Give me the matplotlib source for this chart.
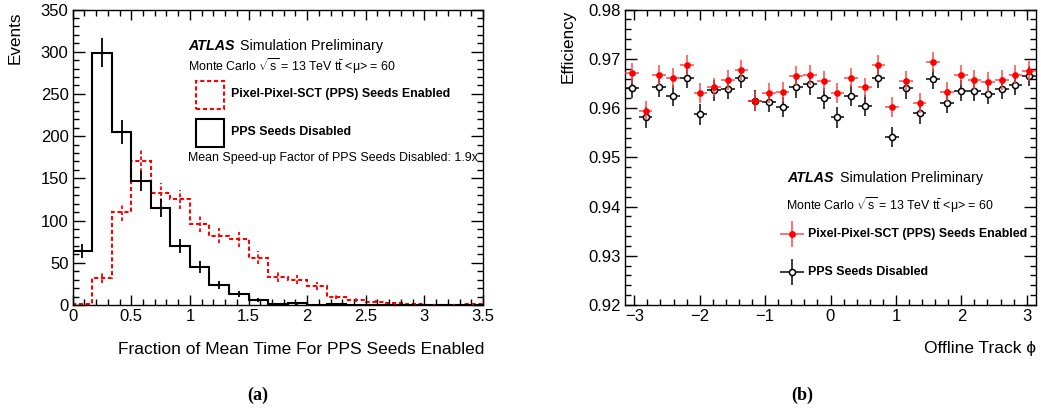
import numpy as np
import matplotlib
matplotlib.use("Agg")
import matplotlib.pyplot as plt
from matplotlib.patches import Rectangle
from matplotlib.lines import Line2D
from matplotlib.ticker import MultipleLocator

plt.rcParams['font.family'] = ['Liberation Sans', 'DejaVu Sans']
plt.rcParams['mathtext.fontset'] = 'custom'
plt.rcParams['mathtext.rm'] = 'Liberation Sans'
plt.rcParams['mathtext.it'] = 'Liberation Sans:italic'
plt.rcParams['mathtext.bf'] = 'Liberation Sans:bold'

# ---------------- data: panel (a) ----------------
hist_edges_max = 3.5
n_bins = 21
pps_enabled_counts = [1, 32, 110, 170, 133, 125, 96, 82, 78, 56, 33, 30, 22, 10, 6, 4, 2, 1.5, 0.5, 0.5, 1]
pps_disabled_counts = [64, 299, 205, 147, 115, 70, 45, 24, 13, 6, 1.5, 2, 0, 1, 0.5, 0, 0, 0, 0, 0, 0]

# ---------------- data: panel (b) ----------------
phi_bins = 30
eff_enabled = [0.9671, 0.9595, 0.9667, 0.9661, 0.9687, 0.9631, 0.9642, 0.9657, 0.9677, 0.9615,
               0.9631, 0.9632, 0.9665, 0.9667, 0.9655, 0.9631, 0.9662, 0.9642, 0.9687, 0.9602,
               0.9655, 0.9610, 0.9693, 0.9632, 0.9667, 0.9658, 0.9653, 0.9657, 0.9668, 0.9675]
eff_disabled = [0.9641, 0.9581, 0.9643, 0.9625, 0.9662, 0.9587, 0.9636, 0.9639, 0.9661, 0.9615,
                0.9613, 0.9602, 0.9642, 0.9648, 0.9620, 0.9581, 0.9625, 0.9605, 0.9662, 0.9541,
                0.9640, 0.9589, 0.9659, 0.9611, 0.9635, 0.9635, 0.9629, 0.9639, 0.9647, 0.9665]
eff_enabled_err = 0.0020
eff_disabled_err = 0.0021

W, H = 1041, 412
def fx(px): return px / W
def fy(py): return 1 - py / H

fig = plt.figure(figsize=(W / 100, H / 100), dpi=100)
fig.patch.set_facecolor('white')

def style_axes(ax, xmaj, xmin, ymaj, ymin):
    ax.xaxis.set_major_locator(MultipleLocator(xmaj))
    ax.xaxis.set_minor_locator(MultipleLocator(xmin))
    ax.yaxis.set_major_locator(MultipleLocator(ymaj))
    ax.yaxis.set_minor_locator(MultipleLocator(ymin))
    ax.tick_params(axis='both', which='both', direction='in', top=True, right=True,
                   labelsize=12, width=1.0, color='black')
    ax.tick_params(axis='x', which='major', length=7.5, pad=3)
    ax.tick_params(axis='x', which='minor', length=4)
    ax.tick_params(axis='y', which='major', length=8.5, pad=3)
    ax.tick_params(axis='y', which='minor', length=4.5)
    for s in ax.spines.values():
        s.set_linewidth(1.0)

# ---------------- panel (a) ----------------
axL, axR_, axT, axB = 72.7, 483, 9.5, 305
ax1 = fig.add_axes([fx(axL), fy(axB), (axR_ - axL) / W, (axB - axT) / H])
edges = np.linspace(0, hist_edges_max, n_bins + 1)
centers = 0.5 * (edges[:-1] + edges[1:])
en = np.array(pps_enabled_counts, dtype=float)
di = np.array(pps_disabled_counts, dtype=float)

dash = (0, (2.0, 1.3))
ax1.stairs(en, edges, color='red', lw=1.5, linestyle=dash)
ax1.vlines(centers[en > 0], (en - np.sqrt(en))[en > 0], (en + np.sqrt(en))[en > 0],
           color='red', lw=1.3, linestyle=dash)
ax1.stairs(di, edges, color='black', lw=1.5)
ax1.vlines(centers[di > 0], (di - np.sqrt(di))[di > 0], (di + np.sqrt(di))[di > 0],
           color='black', lw=1.3)
ax1.set_xlim(0, 3.5)
ax1.set_ylim(0, 350)
style_axes(ax1, 0.5, 0.1, 50, 10)
ax1.set_xticks([0, 0.5, 1, 1.5, 2, 2.5, 3, 3.5])
ax1.set_xticklabels(['0', '0.5', '1', '1.5', '2', '2.5', '3', '3.5'])

fig.text(fx(15), fy(12), 'Events', rotation=90, ha='center', va='top', fontsize=12.3)
fig.text(fx(484), fy(350), 'Fraction of Mean Time For PPS Seeds Enabled',
         ha='right', va='center', fontsize=12.5)

fig.text(fx(188), fy(46), 'ATLAS', fontsize=10.3, fontweight='bold', fontstyle='italic',
         ha='left', va='center')
fig.text(fx(240), fy(46), 'Simulation Preliminary', fontsize=10.3, ha='left', va='center')
mc_text = r'Monte Carlo $\sqrt{\mathrm{s}}$ = 13 TeV $\mathrm{t\bar{t}}$ <$\mathrm{\mu}$> = 60'
fig.text(fx(188), fy(66), mc_text, fontsize=8.9, ha='left', va='center')
fig.add_artist(Rectangle((fx(196), fy(109)), (224 - 196) / W, (109 - 81) / H,
                         transform=fig.transFigure, fill=False, edgecolor='red',
                         lw=1.5, linestyle=dash))
fig.text(fx(231), fy(94), 'Pixel-Pixel-SCT (PPS) Seeds Enabled', fontsize=8.9,
         fontweight='bold', ha='left', va='center')
fig.add_artist(Rectangle((fx(196), fy(147)), (224 - 196) / W, (147 - 119) / H,
                         transform=fig.transFigure, fill=False, edgecolor='black', lw=1.5))
fig.text(fx(231), fy(132), 'PPS Seeds Disabled', fontsize=8.9,
         fontweight='bold', ha='left', va='center')
fig.text(fx(188), fy(158), 'Mean Speed-up Factor of PPS Seeds Disabled: 1.9x',
         fontsize=8.9, ha='left', va='center')

fig.text(fx(258), fy(395), '(a)', fontsize=13, fontweight='bold',
         family='Liberation Serif', ha='center', va='center')

# ---------------- panel (b) ----------------
bL, bR, bT, bB = 625, 1036, 9.6, 305
ax2 = fig.add_axes([fx(bL), fy(bB), (bR - bL) / W, (bB - bT) / H])
phi_edges = np.linspace(-np.pi, np.pi, phi_bins + 1)
phi_c = 0.5 * (phi_edges[:-1] + phi_edges[1:])
half_w = 0.5 * (phi_edges[1:] - phi_edges[:-1])

red_err_col = (1, 0.25, 0.25, 0.75)
blk_err_col = (0.1, 0.1, 0.1, 0.85)
ax2.errorbar(phi_c, eff_disabled, xerr=half_w, yerr=eff_disabled_err, fmt='o',
             color='black', ms=4.4, mfc='white', mec='black', mew=1.1,
             ecolor=blk_err_col, elinewidth=1.4, capsize=0, zorder=3)
ax2.errorbar(phi_c, eff_enabled, xerr=half_w, yerr=eff_enabled_err, fmt='o',
             color='red', ms=3.8, mfc='red', mec='red', ecolor=red_err_col,
             elinewidth=1.4, capsize=0, zorder=4)
ax2.set_xlim(-np.pi, np.pi)
ax2.set_ylim(0.92, 0.98)
style_axes(ax2, 1, 0.2, 0.01, 0.002)
ax2.set_yticks([0.92, 0.93, 0.94, 0.95, 0.96, 0.97, 0.98])
ax2.set_yticklabels(['0.92', '0.93', '0.94', '0.95', '0.96', '0.97', '0.98'])
ax2.set_xticks([-3, -2, -1, 0, 1, 2, 3])
ax2.set_xticklabels(['\u22123', '\u22122', '\u22121', '0', '1', '2', '3'])

fig.text(fx(568.5), fy(10), 'Efficiency', rotation=90, ha='center', va='top', fontsize=12.3)
fig.text(fx(1036), fy(348), 'Offline Track \u03d5', ha='right', va='center', fontsize=12.5)

fig.text(fx(787), fy(178), 'ATLAS', fontsize=10.3, fontweight='bold', fontstyle='italic',
         ha='left', va='center')
fig.text(fx(839.5), fy(178), 'Simulation Preliminary', fontsize=10.3, ha='left', va='center')
fig.text(fx(786), fy(205), mc_text, fontsize=8.9, ha='left', va='center')

# legend markers
mx = 792
for my, col, ecol, filled in [(234, 'red', red_err_col, True),
                              (272, 'black', blk_err_col, False)]:
    fig.add_artist(Line2D([fx(mx - 11), fx(mx + 11)], [fy(my), fy(my)],
                          transform=fig.transFigure, color=ecol, lw=1.4))
    fig.add_artist(Line2D([fx(mx), fx(mx)], [fy(my - 12), fy(my + 12)],
                          transform=fig.transFigure, color=ecol, lw=1.4))
    fig.add_artist(Line2D([fx(mx)], [fy(my)], transform=fig.transFigure, marker='o',
                          ms=3.8 if filled else 4.4, mfc=col if filled else 'white',
                          mec=col, mew=1.1, linestyle='none'))
fig.text(fx(808), fy(234), 'Pixel-Pixel-SCT (PPS) Seeds Enabled', fontsize=8.9,
         fontweight='bold', ha='left', va='center')
fig.text(fx(808), fy(272), 'PPS Seeds Disabled', fontsize=8.9,
         fontweight='bold', ha='left', va='center')

fig.text(fx(802), fy(395), '(b)', fontsize=13, fontweight='bold',
         family='Liberation Serif', ha='center', va='center')

fig.savefig('out.png', dpi=100, facecolor='white')
